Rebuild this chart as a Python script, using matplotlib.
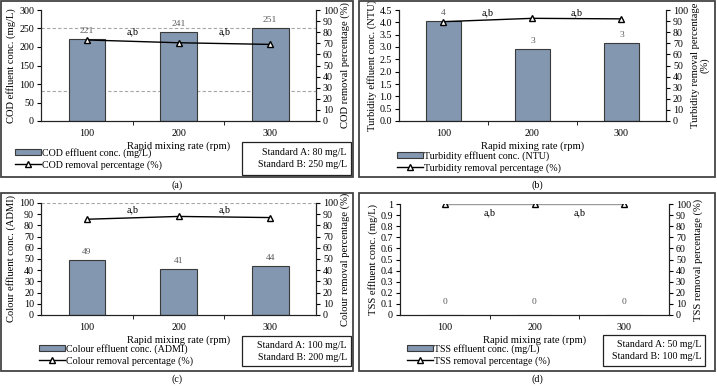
import matplotlib
matplotlib.use("Agg")
import matplotlib.pyplot as plt
from matplotlib.patches import Rectangle
from matplotlib.lines import Line2D
from matplotlib.ticker import MultipleLocator, FormatStrFormatter

plt.rcParams["font.family"] = ["Liberation Serif", "DejaVu Serif"]

W, H = 717, 386

rates = ["100", "200", "300"]

cod_conc = [221, 241, 251]
cod_removal = [73.0, 70.5, 69.0]
cod_labels = ["221", "241", "251"]

turb_conc = [4.05, 2.93, 3.18]
turb_removal = [89.5, 92.5, 92.0]
turb_labels = ["4", "3", "3"]

colour_conc = [49, 41, 44]
colour_removal = [85.5, 88.0, 87.0]
colour_labels = ["49", "41", "44"]

tss_conc = [0, 0, 0]
tss_removal = [100, 100, 100]
tss_labels = ["0", "0", "0"]

BAR = "#8497b0"
EDGE = "#3a3a3a"
GREY_TXT = "#5a5a5a"
FS = 7.2
LFS = 7.6


def fx(px):
    return px / W


def fy(py):
    return 1 - py / H


def rect(x0, y0, x1, y1):
    return [fx(x0), fy(y1), (x1 - x0) / W, (y1 - y0) / H]


fig = plt.figure(figsize=(W / 100, H / 100), dpi=100, facecolor="white")


def panel(box, axbox, conc, removal, labels, ylim, ystep, fmt, ylab, rlab,
          leg_names, leg_xy, std_lines=(), std_box=None, std_text=None,
          label_off=0.0, ab_y=None, ab_below=False, line_color="black",
          tag=""):
    # outer frame of the panel
    x0, y0, x1, y1 = box
    fig.patches.append(Rectangle((fx(x0), fy(y1)), (x1 - x0) / W, (y1 - y0) / H,
                                 transform=fig.transFigure, fill=False,
                                 edgecolor="#444444", lw=1.3))
    fig.text(fx((x0 + x1) / 2), fy(y1 + 8), tag, ha="center", va="center", fontsize=FS)

    ax = fig.add_axes(rect(*axbox))
    xs = list(range(len(rates)))
    ax.bar(xs, conc, width=0.4, color=BAR, edgecolor=EDGE, lw=0.8, zorder=2)
    ax.set_xlim(-0.5, 2.5)
    ax.set_ylim(*ylim)
    ax.yaxis.set_major_locator(MultipleLocator(ystep))
    ax.yaxis.set_major_formatter(FormatStrFormatter(fmt) if fmt else
                                 plt.FuncFormatter(lambda v, p: f"{v:g}"))
    ax.set_xticks(xs)
    ax.set_xticklabels(rates)
    ax.set_xticks([0.5, 1.5], minor=True)
    ax.tick_params(axis="x", which="major", length=0, pad=6, labelsize=FS)
    ax.tick_params(axis="x", which="minor", length=3, direction="out")
    ax.tick_params(axis="y", length=3, labelsize=FS, pad=2)
    ax.spines["top"].set_visible(False)
    for s in ax.spines.values():
        s.set_color("#222222")
        s.set_linewidth(0.8)
    ax.set_xlabel("Rapid mixing rate (rpm)", fontsize=LFS, labelpad=2)
    ax.set_ylabel(ylab, fontsize=LFS, labelpad=2)
    for v in std_lines:
        ax.axhline(v, color="#a6a6a6", lw=0.8, ls=(0, (3, 2)), zorder=1)
    span = ylim[1] - ylim[0]
    for x, v, t in zip(xs, conc, labels):
        ax.text(x, v + span * (0.035 + label_off), t, ha="center", va="bottom",
                fontsize=6.8, color=GREY_TXT)

    ax2 = ax.twinx()
    ax2.set_ylim(0, 100)
    ax2.yaxis.set_major_locator(MultipleLocator(10))
    ax2.plot(xs, removal, color=line_color, lw=1.0, marker="^", ms=5,
             mfc="white", mec="black", mew=1.0, zorder=3)
    ax2.tick_params(axis="y", length=3, labelsize=FS, pad=2)
    ax2.spines["top"].set_visible(False)
    for s in ax2.spines.values():
        s.set_color("#222222")
        s.set_linewidth(0.8)
    ax2.set_ylabel(rlab, fontsize=LFS, labelpad=2, linespacing=1.0)
    for i in range(len(xs) - 1):
        ax2.text(i + 0.5, ab_y, "a,b", ha="center",
                 va="top" if ab_below else "bottom", fontsize=FS)

    handles = [Rectangle((0, 0), 1, 1, facecolor=BAR, edgecolor=EDGE, lw=0.8),
               Line2D([], [], color="black", lw=1.0, marker="^", ms=4.5,
                      mfc="white", mec="black")]
    fig.legend(handles, leg_names, loc="upper left",
               bbox_to_anchor=(fx(leg_xy[0]), fy(leg_xy[1])), frameon=False,
               fontsize=FS, handlelength=2.6, handleheight=0.6, handletextpad=0.1,
               labelspacing=0.25, borderpad=0, borderaxespad=0)

    if std_box is not None:
        bx0, by0, bx1, by1 = std_box
        fig.patches.append(Rectangle((fx(bx0), fy(by1)), (bx1 - bx0) / W,
                                     (by1 - by0) / H, transform=fig.transFigure,
                                     fill=False, edgecolor="#222222", lw=0.9))
        fig.text(fx(bx1 - 4), fy((by0 + by1) / 2 - 6), std_text[0], ha="right",
                 va="center", fontsize=FS)
        fig.text(fx(bx1 - 4), fy((by0 + by1) / 2 + 6), std_text[1], ha="right",
                 va="center", fontsize=FS)
    return ax, ax2


panel((1, 1, 353, 177), (41, 10, 316, 121), cod_conc, cod_removal, cod_labels,
      (0, 300), 50, None, "COD effluent conc. (mg/L)", "COD removal percentage (%)",
      ["COD effluent conc. (mg/L)", "COD removal percentage (%)"], (15, 148),
      std_lines=(80, 250), std_box=(242, 142, 351, 175),
      std_text=("Standard A: 80 mg/L", "Standard B: 250 mg/L"), ab_y=76, tag="(a)")

panel((359, 1, 715, 177), (399, 10, 666, 121), turb_conc, turb_removal, turb_labels,
      (0, 4.5), 0.5, "%.1f", "Turbidity effluent conc. (NTU)",
      "Turbidity removal percentage\n(%)",
      ["Turbidity effluent conc. (NTU)", "Turbidity removal percentage (%)"],
      (397, 151), ab_y=93, tag="(b)")

panel((1, 193, 353, 371), (41, 203, 316, 315), colour_conc, colour_removal,
      colour_labels, (0, 100), 10, None, "Colour effluent conc. (ADMI)",
      "Colour removal percentage (%)",
      ["Colour effluent conc. (ADMI)", "Colour removal percentage (%)"], (39, 344),
      std_lines=(100,), std_box=(242, 336, 351, 366),
      std_text=("Standard A: 100 mg/L", "Standard B: 200 mg/L"), ab_y=90, tag="(c)")

panel((359, 193, 715, 371), (400, 204, 669, 315), tss_conc, tss_removal, tss_labels,
      (0, 1), 0.1, None, "TSS effluent conc. (mg/L)", "TSS removal percentage (%)",
      ["TSS effluent conc. (mg/L)", "TSS removal percentage (%)"], (407, 344),
      std_box=(603, 335, 705, 366),
      std_text=("Standard A: 50 mg/L", "Standard B: 100 mg/L"),
      label_off=0.05, ab_y=96, ab_below=True, line_color="#9a9a9a", tag="(d)")

fig.savefig("out.png", dpi=100, facecolor="white")
